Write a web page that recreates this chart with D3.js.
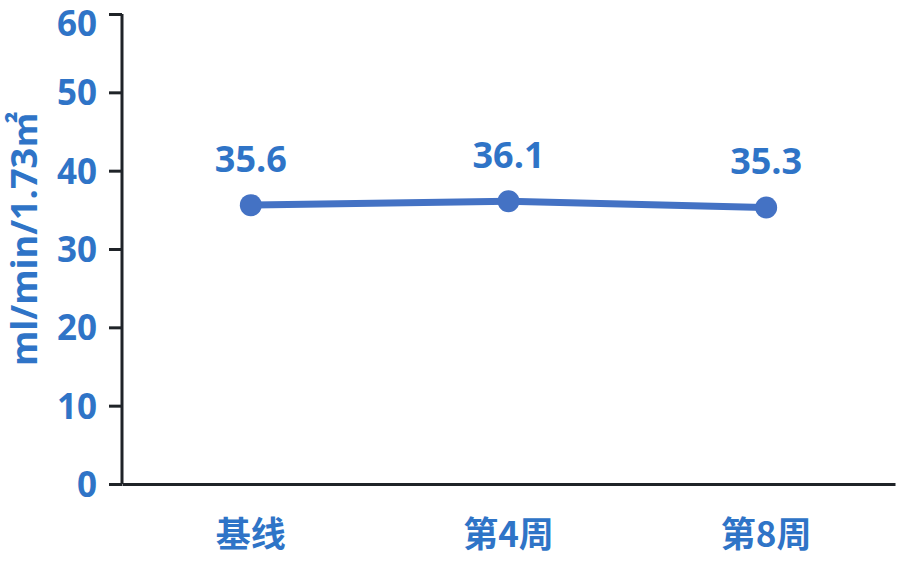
<!DOCTYPE html>
<html>
<head>
<meta charset="utf-8">
<script src="https://cdn.jsdelivr.net/npm/d3@7"></script>
<style>
  body { margin: 0; background: #fff; }
  svg { display: block; }
  text { font-family: "Open Sans", "Noto Sans CJK SC", sans-serif; font-weight: bold; fill: #2f74c7; }
</style>
</head>
<body>
<svg id="chart" width="900" height="576"></svg>
<script>
'use strict';

// ---- Data -------------------------------------------------------------------

const categories = ['基线', '第4周', '第8周'];
const values     = [35.6, 36.1, 35.3];
const yTicks     = [0, 10, 20, 30, 40, 50, 60];
const yLabel     = 'ml/min/1.73㎡';

// ---- Layout -----------------------------------------------------------------

const margin = { top: 14, right: 5, bottom: 92, left: 122 };
const W = 900, H = 576;
const innerW = W - margin.left - margin.right;
const innerH = H - margin.top - margin.bottom;

const svg = d3.select('#chart');
const g = svg.append('g').attr('transform', `translate(${margin.left},${margin.top})`);

const x = d3.scaleBand().domain(categories).range([0, innerW]).padding(0);
const y = d3.scaleLinear().domain([0, 60]).range([innerH, 0]);

// ---- Axes -------------------------------------------------------------------

const yAxis = g.append('g')
  .call(d3.axisLeft(y).tickValues(yTicks).tickSize(13).tickPadding(12));
yAxis.select('.domain').attr('stroke', '#1f2328').attr('stroke-width', 3).attr('d', `M0,0V${innerH}`);
yAxis.selectAll('.tick line').attr('stroke', '#1f2328').attr('stroke-width', 3);
yAxis.selectAll('.tick text')
  .style('font-size', '35px')
  .attr('dy', d => d === 60 ? '0.62em' : '0.36em');  // top label nudged down to stay inside

const xAxis = g.append('g')
  .attr('transform', `translate(0,${innerH})`)
  .call(d3.axisBottom(x).tickSize(0).tickPadding(38));
xAxis.select('.domain').attr('stroke', '#1f2328').attr('stroke-width', 3);
xAxis.selectAll('.tick text').style('font-size', '35px').style('font-family', '"Noto Sans CJK SC", sans-serif');

// Y axis title
svg.append('text')
  .attr('transform', `translate(37,${margin.top + innerH / 2 - 10}) rotate(-90)`)
  .attr('text-anchor', 'middle')
  .style('font-size', '36px')
  .text(yLabel);

// ---- Line & markers ---------------------------------------------------------

const pts = categories.map((c, i) => ({ c, v: values[i] }));
const cx = d => x(d.c) + x.bandwidth() / 2;

g.append('path')
  .datum(pts)
  .attr('fill', 'none')
  .attr('stroke', '#4472c4')
  .attr('stroke-width', 7)
  .attr('d', d3.line().x(cx).y(d => y(d.v)));

g.selectAll('.dot')
  .data(pts)
  .join('circle')
  .attr('class', 'dot')
  .attr('cx', cx)
  .attr('cy', d => y(d.v))
  .attr('r', 11)
  .attr('fill', '#4472c4');

g.selectAll('.val')
  .data(pts)
  .join('text')
  .attr('class', 'val')
  .attr('x', cx)
  .attr('y', d => y(d.v) - 33)
  .attr('text-anchor', 'middle')
  .style('font-size', '36px')
  .text(d => d.v.toFixed(1));
</script>
</body>
</html>
